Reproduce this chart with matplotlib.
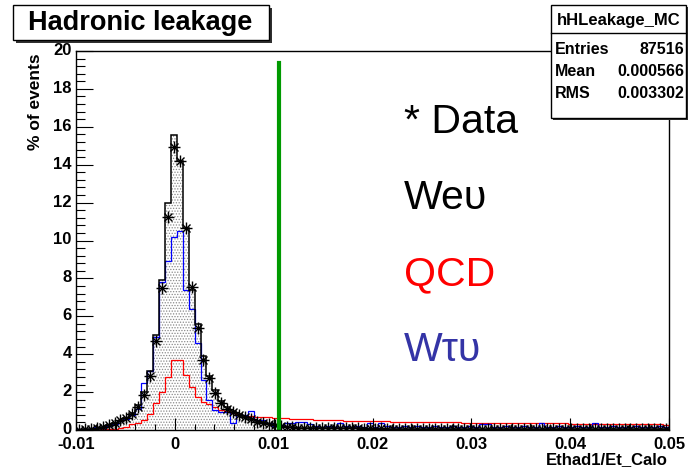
# Hadronic leakage plot (ROOT style) redone with matplotlib

import numpy as np
import matplotlib
matplotlib.use('Agg')
from matplotlib import pyplot as plt
from matplotlib.patches import Rectangle
from matplotlib.ticker import MultipleLocator, FuncFormatter
from matplotlib.transforms import ScaledTranslation

plt.rcParams['font.family'] = ['Liberation Sans', 'DejaVu Sans']
plt.rcParams['hatch.linewidth'] = 0.6
plt.rcParams['axes.linewidth'] = 1.0

# binning: 100 bins between -0.01 and 0.05
x_lo, x_hi, n_bins = -0.01, 0.05, 100

# % of events per bin
mc_wenu = [0.02, 0.03, 0.05, 0.07, 0.15, 0.25, 0.35, 0.50, 0.65, 0.90,
           1.33, 2.00, 3.13, 5.00, 7.90, 12.00, 15.55, 14.20, 10.65, 7.40,
           5.57, 3.89, 2.87, 2.10, 1.55, 1.20, 1.00, 0.82, 0.70, 0.58,
           0.47, 0.40, 0.33, 0.27, 0.22, 0.18, 0.15, 0.13, 0.12, 0.11,
           0.10, 0.10, 0.09, 0.09, 0.09, 0.08, 0.08, 0.08, 0.08, 0.07,
           0.07, 0.07, 0.07, 0.07, 0.06, 0.07, 0.06, 0.06, 0.06, 0.06,
           0.06, 0.06, 0.06, 0.05, 0.06, 0.05, 0.05, 0.06, 0.05, 0.05,
           0.05, 0.05, 0.05, 0.05, 0.05, 0.05, 0.04, 0.05, 0.05, 0.04,
           0.05, 0.04, 0.04, 0.05, 0.04, 0.04, 0.04, 0.04, 0.04, 0.04,
           0.04, 0.04, 0.04, 0.04, 0.04, 0.03, 0.04, 0.04, 0.03, 0.04]

data = [0.01, 0.03, 0.04, 0.08, 0.18, 0.27, 0.39, 0.55, 0.65, 0.85,
        1.20, 1.86, 2.87, 4.69, 7.50, 11.25, 14.96, 14.20, 10.67, 7.55,
        5.36, 3.72, 2.76, 1.95, 1.45, 1.12, 0.94, 0.80, 0.67, 0.57,
        0.44, 0.38, 0.32, 0.25, 0.20, 0.17, 0.15, 0.13, 0.12, 0.11,
        0.10, 0.10, 0.09, 0.09, 0.08, 0.09, 0.08, 0.08, 0.07, 0.08,
        0.07, 0.08, 0.07, 0.07, 0.07, 0.06, 0.07, 0.07, 0.06, 0.07,
        0.06, 0.06, 0.07, 0.06, 0.06, 0.06, 0.06, 0.05, 0.06, 0.06,
        0.05, 0.06, 0.05, 0.06, 0.05, 0.05, 0.06, 0.05, 0.05, 0.05,
        0.05, 0.05, 0.05, 0.04, 0.05, 0.05, 0.04, 0.05, 0.04, 0.05,
        0.04, 0.05, 0.04, 0.04, 0.05, 0.04, 0.04, 0.04, 0.04, 0.04]

qcd = [0.01, 0.01, 0.02, 0.02, 0.03, 0.03, 0.05, 0.08, 0.18, 0.30,
       0.35, 0.53, 0.85, 1.45, 1.98, 2.80, 3.68, 3.68, 2.90, 2.25,
       1.75, 1.50, 1.35, 1.20, 1.08, 0.98, 0.90, 0.82, 0.76, 0.72,
       0.70, 0.68, 0.66, 0.65, 0.64, 0.62, 0.60, 0.60, 0.58, 0.56,
       0.55, 0.54, 0.53, 0.52, 0.52, 0.50, 0.49, 0.48, 0.47, 0.46,
       0.46, 0.45, 0.45, 0.44, 0.44, 0.43, 0.43, 0.42, 0.42, 0.42,
       0.41, 0.41, 0.40, 0.40, 0.40, 0.39, 0.39, 0.38, 0.38, 0.38,
       0.37, 0.37, 0.37, 0.37, 0.36, 0.36, 0.36, 0.36, 0.35, 0.36,
       0.35, 0.35, 0.35, 0.34, 0.34, 0.34, 0.34, 0.33, 0.33, 0.33,
       0.32, 0.32, 0.32, 0.31, 0.31, 0.31, 0.30, 0.30, 0.30, 0.29]

wtaunu = [0.03, 0.05, 0.05, 0.15, 0.08, 0.20, 0.30, 0.45, 0.60, 0.80,
          1.10, 2.50, 3.10, 4.90, 7.80, 8.90, 10.20, 10.50, 7.40, 6.40,
          4.60, 2.65, 1.60, 1.06, 0.97, 0.97, 0.35, 0.80, 0.80, 1.02,
          0.53, 0.53, 0.35, 0.20, 0.25, 0.39, 0.39, 0.44, 0.44, 0.30,
          0.20, 0.15, 0.20, 0.15, 0.35, 0.20, 0.15, 0.20, 0.15, 0.35,
          0.15, 0.35, 0.20, 0.15, 0.15, 0.20, 0.15, 0.20, 0.15, 0.15,
          0.20, 0.15, 0.15, 0.20, 0.15, 0.15, 0.20, 0.15, 0.30, 0.30,
          0.15, 0.15, 0.20, 0.15, 0.15, 0.20, 0.15, 0.15, 0.35, 0.15,
          0.15, 0.20, 0.15, 0.15, 0.20, 0.15, 0.15, 0.35, 0.15, 0.15,
          0.20, 0.15, 0.15, 0.15, 0.20, 0.15, 0.15, 0.15, 0.20, 0.15]

cut_value = 0.0105
cut_top = 19.35

stats_name = "hHLeakage_MC"
stats_rows = [("Entries", "87516"), ("Mean", "0.000566"), ("RMS", "0.003302")]

legend_texts = ["* Data", "We\u03c5", "QCD", "W\u03c4\u03c5"]
legend_colors = ["black", "black", "#ff0000", "#3434a6"]

W, H = 688, 471


def fx(px):
    return px / W


def fy(py):
    return 1 - py / H


fig = plt.figure(figsize=(W / 100, H / 100), dpi=100)
ax = fig.add_axes([fx(76), fy(430), (669 - 76) / W, (430 - 51) / H])

edges = np.linspace(x_lo, x_hi, n_bins + 1)
centers = 0.5 * (edges[1:] + edges[:-1])

ax.stairs(mc_wenu, edges, fill=True, facecolor='white', edgecolor='#8a8a8a',
          hatch='......', linewidth=0)
ax.stairs(qcd, edges, color='#ff0000', linewidth=0.9)
ax.stairs(wtaunu, edges, color='#0000ff', linewidth=0.9)
ax.stairs(mc_wenu, edges, color='black', linewidth=1.1)

ax.plot(centers, data, linestyle='none', marker='+', ms=8, mew=1.0, color='black')
ax.plot(centers, data, linestyle='none', marker='x', ms=6, mew=1.0, color='black')

ax.plot([cut_value, cut_value], [0, cut_top], color='#009a00', linewidth=3.0)

ax.set_xlim(x_lo, x_hi)
ax.set_ylim(0, 20)
ax.xaxis.set_major_locator(MultipleLocator(0.01))
ax.xaxis.set_minor_locator(MultipleLocator(0.002))
ax.yaxis.set_major_locator(MultipleLocator(2))
ax.yaxis.set_minor_locator(MultipleLocator(0.4))
ax.xaxis.set_major_formatter(FuncFormatter(lambda v, p: '{:g}'.format(round(v, 4))))
ax.tick_params(which='both', direction='in', top=False, right=False, width=0.8)
ax.tick_params(axis='x', which='major', length=8.5, pad=5, labelsize=12)
ax.tick_params(axis='x', which='minor', length=4.5)
ax.tick_params(axis='y', which='major', length=12.5, pad=3, labelsize=12)
ax.tick_params(axis='y', which='minor', length=6.5)
for lab in ax.get_xticklabels() + ax.get_yticklabels():
    lab.set_fontweight('bold')
# nudge the y labels up a touch, as ROOT does, so "0" clears "-0.01"
for lab in ax.get_yticklabels():
    lab.set_transform(lab.get_transform() + ScaledTranslation(0, 2 / 100, fig.dpi_scale_trans))

fig.text(fx(35), fy(53), "% of events", rotation=90, ha='center', va='top',
         fontsize=12.5, fontweight='bold')
fig.text(fx(668), fy(460), "Ethad1/Et_Calo", ha='right', va='center',
         fontsize=12, fontweight='bold')

# title box with shadow
fig.add_artist(Rectangle((fx(16), fy(43)), (269 - 13) / W, (40 - 5) / H,
                         transform=fig.transFigure, facecolor='#303030', edgecolor='none'))
fig.add_artist(Rectangle((fx(13), fy(40)), (269 - 13) / W, (40 - 5) / H,
                         transform=fig.transFigure, facecolor='white', edgecolor='black',
                         linewidth=1.0))
fig.text(fx(140), fy(23), "Hadronic leakage", ha='center', va='center',
         fontsize=19.5, fontweight='bold')

# stats box
fig.add_artist(Rectangle((fx(553), fy(120)), (686 - 551) / W, (118 - 5) / H,
                         transform=fig.transFigure, facecolor='#303030', edgecolor='none'))
fig.add_artist(Rectangle((fx(551), fy(118)), (686 - 551) / W, (118 - 5) / H,
                         transform=fig.transFigure, facecolor='white', edgecolor='black',
                         linewidth=1.0))
fig.add_artist(plt.Line2D([fx(551), fx(686)], [fy(33), fy(33)],
                          transform=fig.transFigure, color='black', linewidth=1.0))
fig.text(fx(618.5), fy(20), stats_name, ha='center', va='center',
         fontsize=12, fontweight='bold')
for i, (name, val) in enumerate(stats_rows):
    yy = fy(49 + 22.5 * i)
    fig.text(fx(555), yy, name, ha='left', va='center', fontsize=11.5, fontweight='bold')
    fig.text(fx(684), yy, val, ha='right', va='center', fontsize=11.5, fontweight='bold')

# text legend
for i, (txt, col) in enumerate(zip(legend_texts, legend_colors)):
    fig.text(fx(404), fy(133 + 76 * i), txt, ha='left', va='baseline',
             fontsize=29.5, color=col)

fig.savefig("out.png", dpi=100)
